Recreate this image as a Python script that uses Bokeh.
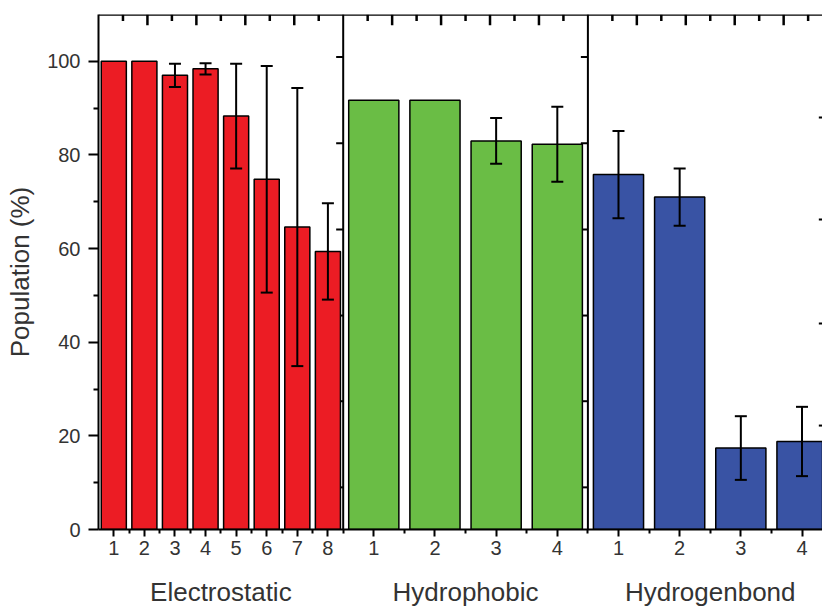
from bokeh.plotting import figure
from bokeh.models import (Range1d, LinearAxis, FixedTicker, ColumnDataSource,
                          Whisker, TeeHead, Span)
from bokeh.embed import file_html
from bokeh.resources import INLINE

# ---------------- data ----------------
groups = ["Electrostatic", "Hydrophobic", "Hydrogenbond"]

electro_labels = ["1", "2", "3", "4", "5", "6", "7", "8"]
electro_vals = [100.0, 100.0, 97.0, 98.4, 88.3, 74.8, 64.6, 59.4]
electro_err = [0.0, 0.0, 2.5, 1.2, 11.2, 24.2, 29.7, 10.3]

hydrophobic_labels = ["1", "2", "3", "4"]
hydrophobic_vals = [91.7, 91.7, 83.0, 82.3]
hydrophobic_err = [0.0, 0.0, 4.9, 8.0]

hbond_labels = ["1", "2", "3", "4"]
hbond_vals = [75.8, 71.0, 17.4, 18.8]
hbond_err = [9.3, 6.1, 6.8, 7.4]

y_ticks = [0, 20, 40, 60, 80, 100]
y_minor = [10, 30, 50, 70, 90]
y_label = "Population (%)"

# ---------------- styling ----------------
colors = ["#EC1C24", "#6ABD45", "#3953A4"]
FONT = "Liberation Sans"
TXT = "#333333"
slot = [1.0, 2.0, 2.0]          # width of one bar slot per panel (panel-1 units)
panel_span = 8.0
bar_frac = 0.82
x_end = 24.17                   # third panel is cut off at the image edge
Y_TOP = 110

all_labels = [electro_labels, hydrophobic_labels, hbond_labels]
all_vals = [electro_vals, hydrophobic_vals, hbond_vals]
all_err = [electro_err, hydrophobic_err, hbond_err]

xs, tops, widths, cols = [], [], [], []
ex, eu, el = [], [], []
tick_pos, tick_lab, minor_pos = [], [], []
group_centers = []
for g in range(3):
    start = 0.5 + panel_span * g
    group_centers.append(start + panel_span / 2)
    for i, (lab, v, e) in enumerate(zip(all_labels[g], all_vals[g], all_err[g])):
        c = start + slot[g] * (i + 0.5)
        xs.append(c)
        tops.append(v)
        widths.append(slot[g] * bar_frac)
        cols.append(colors[g])
        tick_pos.append(c)
        tick_lab.append(lab)
        minor_pos.append(start + slot[g] * (i + 1))
        if e > 0:
            ex.append(c)
            eu.append(v + e)
            el.append(v - e)

bars = ColumnDataSource(dict(x=xs, top=tops, w=widths, color=cols))
errs = ColumnDataSource(dict(x=ex, upper=eu, lower=el))

p = figure(frame_width=724, frame_height=515,
           x_range=Range1d(0.5, x_end), y_range=Range1d(0, Y_TOP),
           x_axis_type=None, y_axis_type=None,
           output_backend="svg", toolbar_location=None,
           min_border_left=98, min_border_right=0,
           min_border_top=14, min_border_bottom=77)
p.outline_line_color = None

# panel separators
for g in range(1, 3):
    p.add_layout(Span(location=0.5 + panel_span * g, dimension="height",
                      line_color="black", line_width=2, level="underlay"))

# inward ticks of the right-hand axes at panel borders
rt = [9.0, 27.4, 45.7, 64.1, 82.5, 100.9]
for g in range(1, 3):
    b = 0.5 + panel_span * g
    p.segment(x0=[b] * len(rt), x1=[b - 0.23] * len(rt), y0=rt, y1=rt,
              line_color="black", line_width=2)
rt3 = [22.2, 44.0, 66.2, 88.0]
p.segment(x0=[x_end] * 4, x1=[x_end - 0.12] * 4, y0=rt3, y1=rt3,
          line_color="black", line_width=2)

# top ticks hanging inward from the top border
top_major, top_minor = [], []
for g in range(3):
    off = panel_span * g
    for j in range(4):
        top_major.append(off + 2.1 + 1.6 * j)
    for j in range(5):
        top_minor.append(off + 1.3 + 1.6 * j)
p.segment(x0=top_major, x1=[v + 0.0001 for v in top_major],
          y0=[Y_TOP - 0.05] * len(top_major), y1=[Y_TOP - 2.3] * len(top_major),
          line_color="black", line_width=2.5)
p.segment(x0=top_minor, x1=[v + 0.0001 for v in top_minor],
          y0=[Y_TOP - 0.05] * len(top_minor), y1=[Y_TOP - 1.4] * len(top_minor),
          line_color="black", line_width=2.5)

p.vbar(x="x", top="top", width="w", bottom=0, fill_color="color",
       line_color="black", line_width=1.5, source=bars)

wk = Whisker(base="x", upper="upper", lower="lower", source=errs,
             line_color="black", line_width=2, level="annotation",
             upper_head=TeeHead(size=12, line_width=2, line_color="black"),
             lower_head=TeeHead(size=12, line_width=2, line_color="black"))
p.add_layout(wk)

# top border line
p.add_layout(Span(location=Y_TOP, dimension="width", line_color="black",
                  line_width=2.5))

# left axis
yax = LinearAxis(ticker=FixedTicker(ticks=y_ticks, minor_ticks=y_minor),
                 axis_label=y_label)
yax.axis_line_width = 2
yax.major_tick_line_width = 2
yax.minor_tick_line_width = 2
yax.major_tick_out = 10
yax.major_tick_in = 0
yax.minor_tick_out = 5
yax.minor_tick_in = 0
yax.major_label_standoff = 8
yax.axis_label_standoff = 9
yax.major_label_text_font = FONT
yax.major_label_text_font_size = "20px"
yax.major_label_text_color = TXT
yax.axis_label_text_font = FONT
yax.axis_label_text_font_size = "26px"
yax.axis_label_text_font_style = "normal"
yax.axis_label_text_color = TXT
p.add_layout(yax, "left")

# bottom axis with bar numbers
xax = LinearAxis(ticker=FixedTicker(ticks=tick_pos, minor_ticks=minor_pos),
                 major_label_overrides={float(k): v for k, v in zip(tick_pos, tick_lab)})
xax.axis_line_width = 2
xax.major_tick_line_width = 2
xax.minor_tick_line_width = 2
xax.major_tick_out = 7
xax.major_tick_in = 0
xax.minor_tick_out = 4
xax.minor_tick_in = 0
xax.major_label_standoff = 4
xax.major_label_text_font = FONT
xax.major_label_text_font_size = "20px"
xax.major_label_text_color = TXT
p.add_layout(xax, "below")

# group names
gax = LinearAxis(ticker=FixedTicker(ticks=group_centers, minor_ticks=[]),
                 major_label_overrides={float(k): v for k, v in zip(group_centers, groups)})
gax.axis_line_color = None
gax.major_tick_line_color = None
gax.minor_tick_line_color = None
gax.major_tick_out = 0
gax.major_tick_in = 0
gax.major_label_standoff = 19
gax.major_label_text_font = FONT
gax.major_label_text_font_size = "26px"
gax.major_label_text_color = TXT
p.add_layout(gax, "below")

open("out.html", "w").write(file_html(p, INLINE))
